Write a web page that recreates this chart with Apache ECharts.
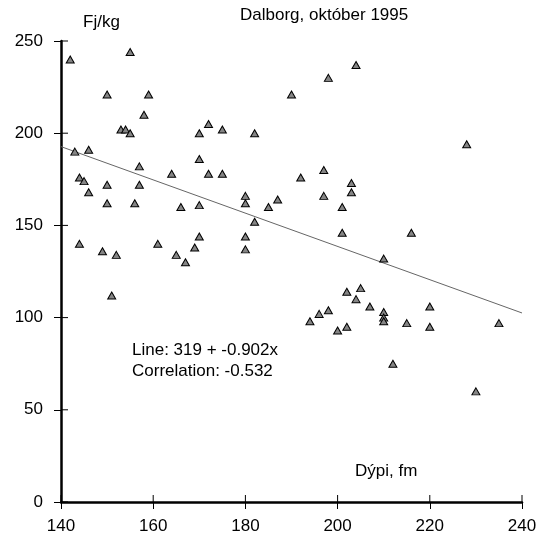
<!DOCTYPE html>
<html>
<head>
<meta charset="utf-8">
<script src="https://cdn.jsdelivr.net/npm/echarts@6/dist/echarts.min.js"></script>
<style>
html,body{margin:0;padding:0;background:#fff;}
#c{width:547px;height:540px;}
</style>
</head>
<body>
<div id="c"></div>
<script>
const depth = [142,155,150,159,158,153,154,155,170,172,143,146,157,164,170,172,144,145,150,157,
  146,150,156,166,170,144,149,152,161,165,167,169,170,151,204,198,190,175,182,175,
  192,197,203,203,197,201,180,180,187,185,182,180,180,201,202,205,204,198,196,194,
  202,200,228,216,210,207,210,210,210,215,220,220,235,212,230];
const fat = [240,244,221,221,210,202,202,200,200,205,190,191,182,178,186,178,176,174,172,172,
  168,162,162,160,161,140,136,134,140,134,130,138,144,112,237,230,221,202,200,178,
  176,180,173,168,166,160,166,162,164,160,152,144,137,146,114,116,110,104,102,98,
  95,93,194,146,132,106,103,100,98,97,106,95,97,75,60];
const xTicks = [140,160,180,200,220,240];
const yTicks = [0,50,100,150,200,250];
const lineIntercept = 319;
const lineSlope = -0.902;
const lineText = 'Line: 319 + -0.902x';
const corrText = 'Correlation: -0.532';
const titleText = 'Dalborg, október 1995';
const yName = 'Fj/kg';
const xName = 'Dýpi, fm';

const pts = depth.map((d,i)=>[d,fat[i]]);
const xMin = xTicks[0], xMax = xTicks[xTicks.length-1];
const yMin = yTicks[0], yMax = yTicks[yTicks.length-1];
const linePts = [[xMin, lineIntercept + lineSlope*xMin],[xMax, lineIntercept + lineSlope*xMax]];
const FONT = 'Liberation Sans, Arial, sans-serif';
const FS = 17;
const TICK = 7;

const chart = echarts.init(document.getElementById('c'), null, {renderer:'canvas'});
chart.setOption({
  animation:false,
  backgroundColor:'#fff',
  grid:{left:61, right:25, top:41, bottom:38, containLabel:false},
  xAxis:{
    type:'value', min:xMin, max:xMax, interval:20, splitLine:{show:false},
    axisLine:{show:true, lineStyle:{color:'#000', width:2.5}},
    axisTick:{show:true, inside:false, length:TICK, lineStyle:{color:'#000', width:1}},
    axisLabel:{show:true, color:'#000', fontFamily:FONT, fontSize:FS, margin:16}
  },
  yAxis:{
    type:'value', min:yMin, max:yMax, interval:50, splitLine:{show:false},
    axisLine:{show:true, lineStyle:{color:'#000', width:2.5}},
    axisTick:{show:true, inside:false, length:TICK, lineStyle:{color:'#000', width:1}},
    axisLabel:{show:true, color:'#000', fontFamily:FONT, fontSize:FS, margin:18}
  },
  series:[
    {
      type:'custom', silent:true, clip:false, z:5,
      data: xTicks.map(v=>[v, yMin]),
      renderItem:function(params, api){
        const p = api.coord([api.value(0), api.value(1)]);
        return {type:'line', shape:{x1:p[0], y1:p[1], x2:p[0], y2:p[1]-TICK}, style:{stroke:'#000', lineWidth:1}};
      }
    },
    {
      type:'custom', silent:true, clip:false, z:5,
      data: yTicks.map(v=>[xMin, v]),
      renderItem:function(params, api){
        const p = api.coord([api.value(0), api.value(1)]);
        return {type:'line', shape:{x1:p[0], y1:p[1], x2:p[0]+TICK, y2:p[1]}, style:{stroke:'#000', lineWidth:1}};
      }
    },
    {
      type:'line', data:linePts,
      showSymbol:false, symbol:'none',
      lineStyle:{color:'#666', width:1}, silent:true, z:2
    },
    {
      type:'scatter', data:pts,
      symbol:'triangle', symbolSize:[8,7],
      itemStyle:{color:'#858585', borderColor:'#000', borderWidth:1, opacity:1},
      z:3
    }
  ],
  graphic:[
    {type:'text', left:83, top:14, style:{text:yName, font:FS+'px '+FONT, fill:'#000'}},
    {type:'text', left:240, top:7, style:{text:titleText, font:FS+'px '+FONT, fill:'#000'}},
    {type:'text', left:355, top:463, style:{text:xName, font:FS+'px '+FONT, fill:'#000'}},
    {type:'text', left:132, top:342, style:{text:lineText, font:FS+'px '+FONT, fill:'#000'}},
    {type:'text', left:132, top:363, style:{text:corrText, font:FS+'px '+FONT, fill:'#000'}}
  ]
});
</script>
</body>
</html>
